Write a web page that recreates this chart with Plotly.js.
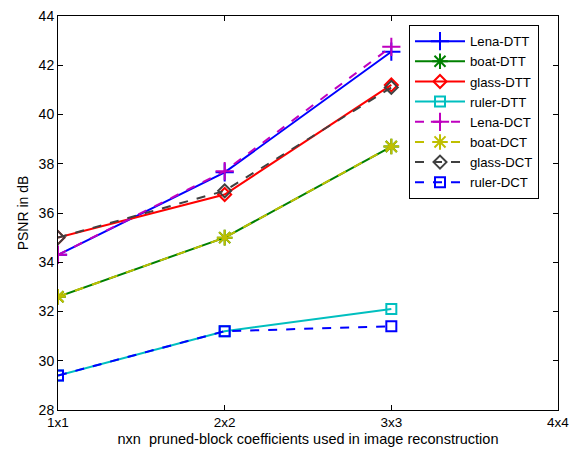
<!DOCTYPE html>
<html>
<head>
<meta charset="utf-8">
<script src="https://cdn.plot.ly/plotly-3.0.1.min.js"></script>
<style>html,body{margin:0;padding:0;background:#fff;}#chart{width:577px;height:452px;}</style>
</head>
<body>
<div id="chart"></div>
<script>
const categories = ['1x1', '2x2', '3x3', '4x4'];
const xUsed = ['1x1', '2x2', '3x3'];

const lenaDTT  = [34.3, 37.65, 42.55];
const boatDTT  = [32.6, 35.0, 38.7];
const glassDTT = [35.0, 36.75, 41.2];
const rulerDTT = [29.4, 31.2, 32.1];
const lenaDCT  = [34.3, 37.7, 42.75];
const boatDCT  = [32.6, 35.0, 38.7];
const glassDCT = [35.0, 36.9, 41.1];
const rulerDCT = [29.4, 31.2, 31.4];

const seriesNames = ['Lena-DTT','boat-DTT','glass-DTT','ruler-DTT','Lena-DCT','boat-DCT','glass-DCT','ruler-DCT'];
const seriesData = [lenaDTT, boatDTT, glassDTT, rulerDTT, lenaDCT, boatDCT, glassDCT, rulerDCT];
const colors = ['#0000ff','#008000','#ff0000','#00bfbf','#bf00bf','#bfbf00','#404040','#0000ff'];
const symbols = ['cross-thin-open','asterisk-open','diamond-open','square-open','cross-thin-open','asterisk-open','diamond-open','square-open'];
const dashes = ['solid','solid','solid','solid','dash','dash','dash','dash'];

const traces = seriesNames.map((n, i) => ({
  type: 'scatter', mode: 'lines+markers', name: n,
  x: xUsed, y: seriesData[i],
  line: {color: colors[i], width: 2, dash: dashes[i]},
  marker: {symbol: symbols[i], size: symbols[i].startsWith('cross') || symbols[i].startsWith('asterisk') ? 13 : 10,
           color: colors[i], line: {color: colors[i], width: 2}}
}));

const fam = 'Liberation Sans, Arial, sans-serif';
const font = {family: fam, size: 13, color: '#000'};

const layout = {
  width: 577, height: 452,
  margin: {l: 58, r: 19, t: 16, b: 42},
  paper_bgcolor: '#fff', plot_bgcolor: '#fff',
  font: font,
  showlegend: true,
  legend: {x: 0.702, xanchor: 'left', y: 0.977, yanchor: 'top',
           bgcolor: '#fff', bordercolor: '#000', borderwidth: 1, itemwidth: 50,
           font: {family: fam, size: 13.2, color: '#000'}, tracegroupgap: 0},
  xaxis: {type: 'category', categoryorder: 'array', categoryarray: categories,
          range: [0, 3], showgrid: false, zeroline: false,
          showline: true, linecolor: '#000', linewidth: 1, mirror: 'ticks',
          ticks: 'inside', ticklen: 5, tickcolor: '#000',
          tickfont: {family: fam, size: 13.5, color: '#000'},
          title: {text: 'nxn  pruned-block coefficients used in image reconstruction', standoff: 4,
                  font: {family: fam, size: 14.5, color: '#000'}}},
  yaxis: {range: [28, 44], dtick: 2, showgrid: false, zeroline: false,
          showline: true, linecolor: '#000', linewidth: 1, mirror: 'ticks',
          ticks: 'inside', ticklen: 5, tickcolor: '#000',
          tickfont: {family: fam, size: 14, color: '#000'},
          title: {text: 'PSNR in dB', standoff: 6,
                  font: {family: fam, size: 14, color: '#000'}}}
};

Plotly.newPlot('chart', traces, layout, {displayModeBar: false, staticPlot: true});
</script>
</body>
</html>
